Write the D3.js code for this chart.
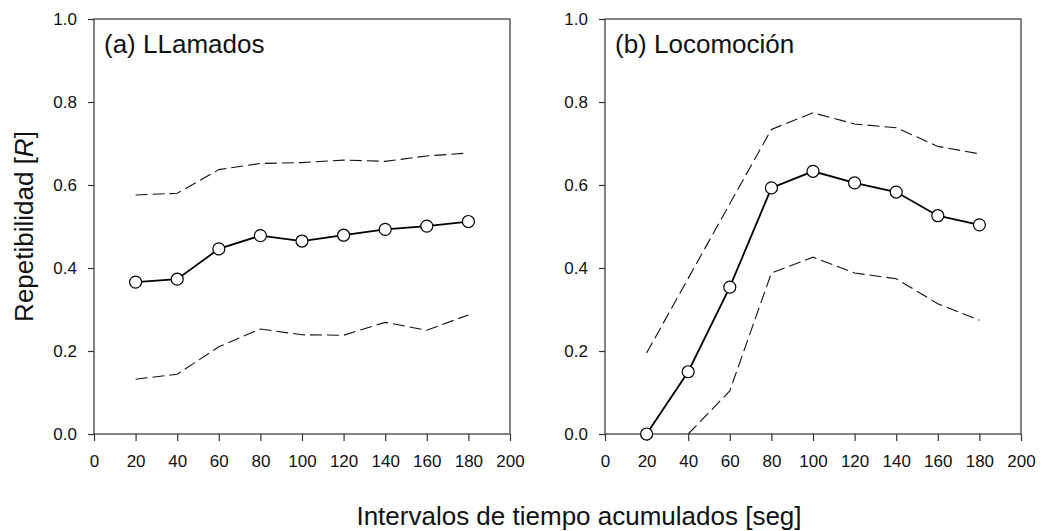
<!DOCTYPE html>
<html>
<head>
<meta charset="utf-8">
<script src="https://cdn.jsdelivr.net/npm/d3@7"></script>
<style>
  body { margin: 0; background: #fff; }
  svg { display: block; font-family: "Liberation Sans", Arial, sans-serif; }
</style>
</head>
<body>
<svg width="1042" height="531"></svg>
<script>
// time intervals (seconds) and axis ticks
const times = [20, 40, 60, 80, 100, 120, 140, 160, 180];
const xTicks = [0, 20, 40, 60, 80, 100, 120, 140, 160, 180, 200];
const yTicks = [0, 0.2, 0.4, 0.6, 0.8, 1.0];

// (a) calls: repeatability and its confidence limits
const callsMean  = [0.366, 0.373, 0.446, 0.478, 0.465, 0.479, 0.493, 0.501, 0.512];
const callsUpper = [0.576, 0.580, 0.637, 0.652, 0.654, 0.660, 0.657, 0.670, 0.677];
const callsLower = [0.132, 0.144, 0.210, 0.253, 0.239, 0.238, 0.269, 0.250, 0.287];

// (b) locomotion
const locoMean  = [0.000, 0.150, 0.354, 0.593, 0.633, 0.605, 0.583, 0.526, 0.504];
const locoUpper = [0.195, 0.375, 0.555, 0.734, 0.774, 0.747, 0.738, 0.693, 0.675];
const locoLower = [null, 0.000, 0.104, 0.388, 0.426, 0.388, 0.374, 0.314, 0.274];

const panelTitles = ['(a) LLamados', '(b) Locomoción'];

var svg = d3.select('svg');

var plotTop = 19, plotBottom = 434;
var panels = [
    {left: 94, right: 510, title: panelTitles[0], mean: callsMean, upper: callsUpper, lower: callsLower},
    {left: 605, right: 1021, title: panelTitles[1], mean: locoMean, upper: locoUpper, lower: locoLower}
];

var yScale = d3.scaleLinear().domain([0, 1]).range([plotBottom, plotTop]);

panels.forEach(p => {
    var xScale = d3.scaleLinear().domain([0, 200]).range([p.left, p.right]);
    var g = svg.append('g');

    // dashed confidence limits
    var line = d3.line()
        .defined(d => d.v !== null)
        .x(d => xScale(d.t))
        .y(d => yScale(d.v));
    [p.upper, p.lower].forEach(arr => {
        g.append('path')
            .datum(times.map((t, i) => ({t: t, v: arr[i]})))
            .attr('d', line)
            .attr('fill', 'none')
            .attr('stroke', '#111')
            .attr('stroke-width', 1.1)
            .attr('stroke-dasharray', '12,5');
    });

    // mean line
    var pts = times.map((t, i) => ({t: t, v: p.mean[i]}));
    g.append('path')
        .datum(pts)
        .attr('d', line)
        .attr('fill', 'none')
        .attr('stroke', '#000')
        .attr('stroke-width', 1.8);

    // frame
    g.append('rect')
        .attr('x', p.left)
        .attr('y', plotTop)
        .attr('width', p.right - p.left)
        .attr('height', plotBottom - plotTop)
        .attr('fill', 'none')
        .attr('stroke', '#333')
        .attr('stroke-width', 1.2);

    // axes
    var xAxis = d3.axisBottom(xScale).tickValues(xTicks).tickSize(7).tickPadding(14).tickSizeOuter(0);
    var yAxis = d3.axisLeft(yScale).tickValues(yTicks).tickFormat(d3.format('.1f')).tickSize(6).tickPadding(11).tickSizeOuter(0);
    var xg = g.append('g').attr('transform', `translate(0, ${plotBottom})`).call(xAxis);
    var yg = g.append('g').attr('transform', `translate(${p.left}, 0)`).call(yAxis);
    [xg, yg].forEach(a => {
        a.select('.domain').remove();
        a.selectAll('line').attr('stroke', '#333').attr('stroke-width', 1.2);
        a.selectAll('text').attr('font-size', 17).attr('fill', '#111')
            .attr('font-family', '"Liberation Sans", Arial, sans-serif');
    });

    // markers on top
    g.selectAll('.pt')
        .data(pts)
        .enter()
        .append('circle')
        .attr('class', 'pt')
        .attr('cx', d => xScale(d.t))
        .attr('cy', d => yScale(d.v))
        .attr('r', 6)
        .attr('fill', '#fff')
        .attr('stroke', '#000')
        .attr('stroke-width', 1.2);

    // panel title
    g.append('text')
        .attr('x', p.left + 10)
        .attr('y', 53)
        .attr('font-size', 26)
        .attr('fill', '#111')
        .text(p.title);
});

// y axis title
var yTitle = svg.append('text')
    .attr('transform', `translate(33, ${(plotTop + plotBottom) / 2}) rotate(-90)`)
    .attr('text-anchor', 'middle')
    .attr('font-size', 26)
    .attr('fill', '#111');
yTitle.append('tspan').text('Repetibilidad [');
yTitle.append('tspan').attr('font-style', 'italic').text('R');
yTitle.append('tspan').text(']');

// x axis title
svg.append('text')
    .attr('x', 579)
    .attr('y', 525)
    .attr('text-anchor', 'middle')
    .attr('font-size', 26)
    .attr('fill', '#111')
    .text('Intervalos de tiempo acumulados [seg]');
</script>
</body>
</html>
